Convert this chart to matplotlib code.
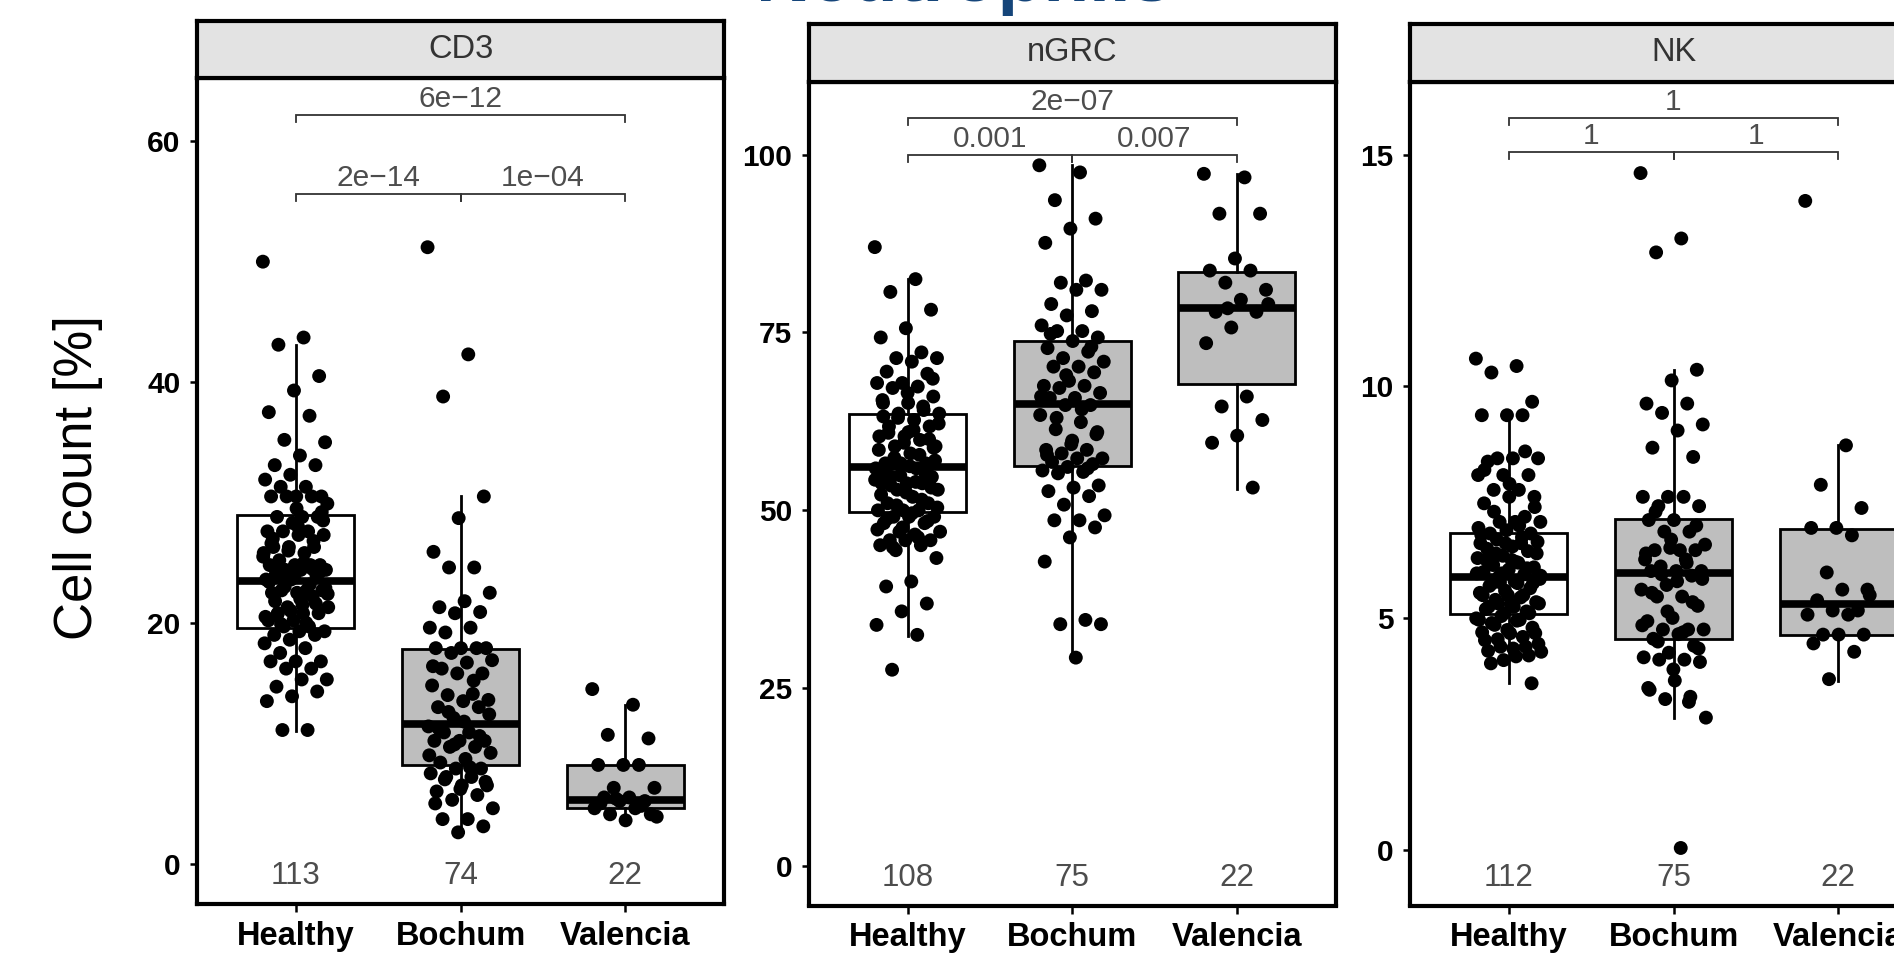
import matplotlib
matplotlib.use('Agg')
import matplotlib.pyplot as plt
import matplotlib.transforms as mtransforms
import numpy as np

plt.rcParams['font.family'] = ['Liberation Sans', 'DejaVu Sans']

groups = ['Healthy', 'Bochum', 'Valencia']

# ---- CD3 ----
cd3_healthy = [50.0, 43.7, 43.1, 40.5, 39.3, 37.5, 37.2, 35.2, 35.0, 33.9,
               33.1, 33.1, 32.3, 31.9, 31.3, 31.3, 30.5, 30.5, 30.5, 30.5,
               30.5, 29.9, 28.8, 28.8, 28.8, 28.3, 27.6, 27.6, 27.6, 27.3,
               27.3, 26.3, 26.3, 26.3, 25.8, 25.8, 25.2, 24.8, 24.8, 24.8,
               24.8, 24.4, 24.4, 24.4, 24.0, 24.0, 23.6, 23.6, 22.7, 22.7,
               22.7, 22.5, 22.5, 22.2, 21.3, 21.3, 20.8, 20.8, 20.8, 20.2,
               20.2, 19.7, 19.7, 19.3, 19.3, 19.0, 19.0, 18.6, 18.3, 17.9,
               17.5, 16.8, 16.8, 16.8, 16.2, 16.2, 15.3, 15.3, 14.7, 14.3,
               13.9, 13.5, 11.1, 11.1, 28.5, 28.0, 27.0, 26.8, 26.0, 25.5,
               25.0, 24.6, 24.2, 23.8, 23.4, 23.2, 23.0, 22.9, 22.0, 21.8,
               21.6, 21.0, 20.5, 20.0, 19.9, 29.2, 29.5, 26.6, 24.5, 23.7,
               22.4, 21.5, 20.7]
cd3_bochum = [51.2, 42.3, 38.8, 30.5, 28.7, 25.9, 24.6, 24.6, 22.5, 21.8,
              21.3, 20.9, 20.8, 19.6, 19.6, 19.2, 17.9, 17.9, 17.9, 17.9,
              17.5, 16.9, 16.7, 16.2, 15.8, 15.8, 14.8, 14.1, 14.0, 13.6,
              13.5, 13.0, 13.0, 12.1, 11.4, 10.9, 10.9, 10.2, 10.2, 10.2,
              9.7, 9.7, 9.2, 8.7, 8.4, 7.9, 7.9, 7.5, 7.2, 7.2,
              6.5, 6.5, 6.0, 5.7, 5.3, 4.6, 3.7, 3.7, 3.1, 2.6,
              16.4, 15.2, 12.6, 12.4, 11.8, 11.2, 10.6, 9.9, 9.0, 8.0,
              7.0, 6.8, 6.2, 5.0]
cd3_valencia = [14.5, 13.2, 10.7, 10.4, 8.2, 8.2, 8.2, 6.3, 6.3, 5.5,
                5.5, 5.2, 5.2, 4.6, 4.6, 4.1, 4.1, 3.6, 5.0, 4.8, 5.4, 3.9]
cd3_n = [113, 74, 22]
cd3_q1 = [19.55, 8.2, 4.6]
cd3_med = [23.5, 11.6, 5.3]
cd3_q3 = [29.0, 17.8, 8.2]
cd3_lo = [11.0, 2.6, 3.4]
cd3_hi = [43.1, 30.5, 13.2]
cd3_p = ['2e\u221214', '1e\u221204', '6e\u221212']

# ---- nGRC ----
ngrc_healthy = [87.0, 82.5, 80.7, 78.2, 75.6, 74.3, 72.2, 71.4, 71.4, 70.9,
                69.5, 69.2, 67.9, 67.9, 67.4, 67.2, 66.0, 65.1, 65.1, 64.1,
                63.6, 63.6, 62.7, 61.8, 61.8, 60.4, 60.4, 59.9, 59.0, 59.0,
                58.0, 56.6, 56.6, 56.6, 55.9, 55.9, 54.7, 54.7, 53.8, 53.8,
                53.8, 52.9, 52.9, 51.9, 51.0, 51.0, 50.0, 50.0, 50.0, 49.1,
                49.1, 49.1, 48.2, 48.2, 47.0, 47.0, 46.6, 45.8, 45.8, 45.8,
                45.1, 45.1, 44.4, 43.3, 40.0, 39.3, 36.9, 35.8, 33.9, 32.5,
                27.6, 68.5, 66.5, 65.5, 64.6, 63.0, 62.2, 61.3, 60.9, 60.0,
                59.5, 58.5, 57.8, 57.4, 57.0, 56.2, 55.5, 55.2, 54.9, 54.3,
                54.0, 53.5, 53.2, 52.5, 52.2, 51.5, 50.7, 50.4, 49.6, 48.8,
                48.5, 47.6, 47.3, 46.2, 44.8, 58.8, 61.0, 63.2]
ngrc_bochum = [98.5, 97.5, 93.6, 91.0, 89.6, 87.6, 82.3, 82.0, 81.0, 81.0,
               79.0, 78.0, 77.4, 76.0, 75.2, 75.2, 74.3, 73.8, 72.8, 72.3,
               71.4, 70.9, 70.2, 70.2, 69.4, 68.2, 67.5, 67.5, 67.2, 66.5,
               65.8, 65.8, 64.8, 64.8, 63.4, 62.4, 61.4, 60.7, 59.3, 58.5,
               58.5, 58.0, 57.3, 57.3, 56.8, 56.5, 56.1, 55.6, 55.4, 55.2,
               53.5, 53.2, 52.7, 52.0, 50.8, 49.3, 48.6, 48.6, 47.6, 46.2,
               42.8, 34.6, 34.0, 34.0, 29.3, 74.8, 73.0, 69.0, 66.0, 64.2,
               63.0, 61.0, 59.8, 57.8, 55.9]
ngrc_valencia = [97.3, 96.8, 91.7, 91.7, 85.4, 83.7, 83.7, 82.0, 81.0, 79.6,
                 77.9, 77.9, 75.7, 73.5, 66.0, 64.6, 62.7, 60.5, 59.5, 53.2,
                 78.4, 79.0]
ngrc_n = [108, 75, 22]
ngrc_q1 = [49.8, 56.2, 67.7]
ngrc_med = [56.1, 64.9, 78.5]
ngrc_q3 = [63.6, 73.8, 83.5]
ngrc_lo = [32.3, 29.2, 53.0]
ngrc_hi = [82.5, 98.5, 97.3]
ngrc_p = ['0.001', '0.007', '2e\u221207']

# ---- NK ----
nk_healthy = [10.6, 10.44, 10.3, 9.67, 9.38, 9.38, 9.38, 8.45, 8.45, 8.45,
              8.38, 8.09, 8.09, 8.09, 7.77, 7.77, 7.62, 7.62, 7.48, 7.19,
              7.08, 7.08, 7.08, 6.83, 6.83, 6.62, 6.62, 6.62, 6.40, 6.40,
              6.26, 6.26, 6.08, 5.97, 5.97, 5.76, 5.76, 5.76, 5.50, 5.50,
              5.50, 5.32, 5.32, 5.25, 5.25, 5.11, 5.11, 4.97, 4.97, 4.86,
              4.68, 4.68, 4.53, 4.39, 4.39, 4.28, 4.18, 4.03, 3.60,
              6.9, 6.8, 6.75, 6.7, 6.65, 6.55, 6.5, 6.45, 6.35, 6.3,
              6.2, 6.15, 6.1, 6.05, 6.0, 5.95, 5.9, 5.85, 5.8, 5.7,
              5.65, 5.6, 5.55, 5.45, 5.4, 5.35, 5.3, 5.2, 5.15, 5.05,
              5.0, 4.95, 4.9, 4.8, 4.75, 4.7, 4.6, 4.55, 4.45, 4.35,
              4.3, 4.2, 4.1, 6.95, 7.0, 7.3, 7.4, 7.9, 8.2, 8.6,
              5.78, 5.92, 6.22]
nk_bochum = [14.6, 13.19, 12.89, 10.36, 10.13, 9.63, 9.63, 9.43, 9.18, 9.05,
             8.68, 8.48, 7.62, 7.62, 7.62, 7.42, 7.42, 7.12, 7.12, 6.87,
             6.87, 6.59, 6.47, 6.47, 6.47, 6.52, 6.27, 6.27, 6.12, 6.02,
             6.02, 6.02, 5.92, 5.72, 5.62, 5.47, 5.47, 5.27, 5.01, 4.94,
             4.76, 4.76, 4.76, 4.66, 4.56, 4.41, 4.26, 4.16, 4.11, 4.11,
             4.06, 3.66, 3.46, 3.31, 3.26, 2.86, 0.05, 7.3, 7.0, 6.7,
             6.4, 6.2, 5.95, 5.85, 5.8, 5.55, 5.35, 5.15, 4.85, 4.7,
             4.5, 4.35, 3.9, 3.5, 3.2]
nk_valencia = [14.0, 8.73, 7.88, 7.38, 6.95, 6.95, 6.79, 5.99, 5.62, 5.62,
               5.39, 5.17, 5.17, 5.08, 5.08, 4.65, 4.65, 4.65, 4.46, 4.28,
               3.69, 5.5]
nk_n = [112, 75, 22]
nk_q1 = [5.09, 4.56, 4.65]
nk_med = [5.89, 5.97, 5.30]
nk_q3 = [6.85, 7.15, 6.92]
nk_lo = [3.60, 2.86, 3.65]
nk_hi = [9.36, 10.36, 8.73]
nk_p = ['1', '1', '1']

W, H = 1894, 957

# panel frames in pixels: left, top, right, bottom, strip top
layout = [
    dict(name='CD3', frame=(197, 78.3, 724, 904), strip_top=20.7,
         ylim=(-3.35, 65.23), yticks=[0, 20, 40, 60], brackets=(55.6, 62.2)),
    dict(name='nGRC', frame=(809, 81.7, 1335.5, 905.5), strip_top=24,
         ylim=(-5.54, 110.25), yticks=[0, 25, 50, 75, 100], brackets=(100.0, 105.1)),
    dict(name='NK', frame=(1410, 81.7, 1937, 905.5), strip_top=24,
         ylim=(-1.19, 16.57), yticks=[0, 5, 10, 15], brackets=(15.05, 15.79)),
]

panel_data = [
    ([cd3_healthy, cd3_bochum, cd3_valencia], cd3_n, cd3_q1, cd3_med, cd3_q3, cd3_lo, cd3_hi, cd3_p),
    ([ngrc_healthy, ngrc_bochum, ngrc_valencia], ngrc_n, ngrc_q1, ngrc_med, ngrc_q3, ngrc_lo, ngrc_hi, ngrc_p),
    ([nk_healthy, nk_bochum, nk_valencia], nk_n, nk_q1, nk_med, nk_q3, nk_lo, nk_hi, nk_p),
]

GRAY_TXT = '#4D4D4D'


def px_rect(left, top, right, bottom):
    return [left / W, 1 - bottom / H, (right - left) / W, (bottom - top) / H]


def jitter(n, width=0.2):
    # spread points sideways without random numbers
    return ((np.arange(n) * 0.6180339887) % 1.0 - 0.5) * 2 * width


def bracket(ax, x1, x2, y, tip):
    ax.plot([x1, x1, x2, x2], [y - tip, y, y, y - tip], color='#333333',
            lw=1.3, solid_joinstyle='miter', zorder=4)


def draw_panel(fig, lay, data):
    points, n, q1, med, q3, lo, hi, pvals = data
    left, top, right, bottom = lay['frame']
    ax = fig.add_axes(px_rect(left, top, right, bottom))
    ax.set_xlim(0.4, 3.6)
    ax.set_ylim(*lay['ylim'])
    ax_h = bottom - top
    per_px = (lay['ylim'][1] - lay['ylim'][0]) / ax_h

    stats = []
    for i in range(3):
        stats.append(dict(q1=q1[i], med=med[i], q3=q3[i],
                          whislo=lo[i], whishi=hi[i], fliers=[]))
    bp = ax.bxp(stats, positions=[1, 2, 3], widths=0.71, patch_artist=True,
                showfliers=False, showcaps=False,
                boxprops=dict(edgecolor='black', linewidth=2.0),
                medianprops=dict(color='black', linewidth=5.5, solid_capstyle='butt'),
                whiskerprops=dict(color='black', linewidth=2.0))
    for patch, fc in zip(bp['boxes'], ['white', '#BEBEBE', '#BEBEBE']):
        patch.set_facecolor(fc)

    for i, vals in enumerate(points):
        xs = i + 1 + jitter(len(vals))
        ax.scatter(xs, vals, s=100, color='black', edgecolors='none', zorder=3)

    # comparison brackets
    y_low, y_up = lay['brackets']
    tip = 7 * per_px
    gap = 8 * per_px
    bracket(ax, 1, 2, y_low, tip)
    bracket(ax, 2, 3, y_low, tip)
    bracket(ax, 1, 3, y_up, tip)
    ax.text(1.5, y_low + gap, pvals[0], ha='center', va='baseline', fontsize=21.5, color=GRAY_TXT)
    ax.text(2.5, y_low + gap, pvals[1], ha='center', va='baseline', fontsize=21.5, color=GRAY_TXT)
    ax.text(2.0, y_up + gap, pvals[2], ha='center', va='baseline', fontsize=21.5, color=GRAY_TXT)

    # group sizes
    trans = mtransforms.blended_transform_factory(ax.transData, ax.transAxes)
    for i, cnt in enumerate(n):
        ax.text(i + 1, 0.024, str(cnt), transform=trans, ha='center', va='baseline',
                fontsize=22.5, color=GRAY_TXT)

    ax.set_xticks([1, 2, 3])
    ax.set_xticklabels(groups, fontsize=23.5, fontweight='bold')
    ax.set_yticks(lay['yticks'])
    ax.set_yticklabels([str(t) for t in lay['yticks']], fontsize=21.5, fontweight='bold')
    ax.tick_params(axis='both', colors='black', width=1.8)
    ax.tick_params(axis='y', length=5, pad=7)
    ax.tick_params(axis='x', length=6, pad=6)
    for sp in ax.spines.values():
        sp.set_linewidth(3.0)
        sp.set_color('black')

    # facet strip
    sx = fig.add_axes(px_rect(left, lay['strip_top'], right, top))
    sx.set_facecolor('#E3E3E3')
    sx.set_xticks([])
    sx.set_yticks([])
    for sp in sx.spines.values():
        sp.set_linewidth(3.0)
        sp.set_color('black')
    sx.text(0.5, 0.5, lay['name'], transform=sx.transAxes, ha='center', va='center',
            fontsize=23.5, color='#333333')
    return ax


fig = plt.figure(figsize=(W / 100, H / 100), dpi=100)

for lay, data in zip(layout, panel_data):
    draw_panel(fig, lay, data)

fig.text(78 / W, 1 - 478 / H, 'Cell count [%]', rotation=90, ha='center', va='center',
         fontsize=38, color='black')
fig.text(964 / W, 1 - 1 / H, 'Neutrophils', ha='center', va='baseline', fontsize=54,
         fontweight='bold', color='#15457A')

fig.savefig('out.png', dpi=100)
